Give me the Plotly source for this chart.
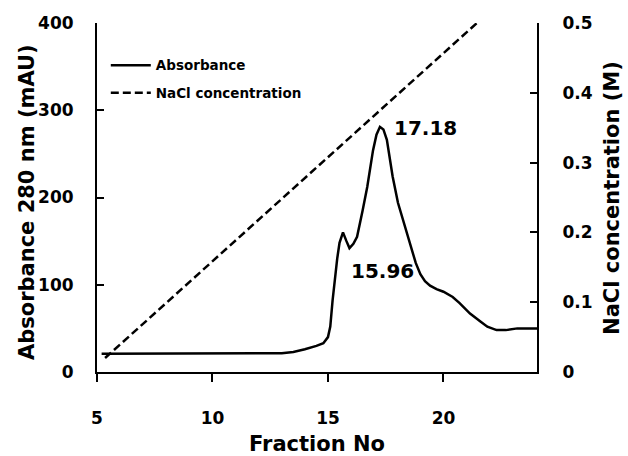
import plotly.graph_objects as go

# Absorbance trace (fraction number vs mAU)
abs_x = [5.2, 6, 8, 10, 12, 13, 13.5, 14.0, 14.5, 14.8, 15.0, 15.1, 15.2, 15.3, 15.4, 15.5,
         15.65, 15.8, 15.93, 16.1, 16.26, 16.5, 16.7, 16.95, 17.1, 17.25, 17.4, 17.55, 17.8,
         18.03, 18.3, 18.55, 18.8, 19.0, 19.2, 19.42, 19.7, 20.0, 20.4, 20.7, 21.15, 21.6,
         21.9, 22.3, 22.7, 23.2, 23.6, 24.05]
abs_y = [21, 21, 21, 21, 21, 21.5, 23, 26, 30, 33, 40, 52, 82, 108, 130, 148,
         160, 150, 142, 147, 155, 185, 212, 254, 272, 281, 278, 266, 224,
         194, 170, 148, 125, 112, 104, 99, 95, 92, 86, 79, 67, 58,
         52, 48, 48, 50, 50, 50]

# NaCl gradient (fraction number vs M)
nacl_x = [5.35, 21.45]
nacl_y = [0.02, 0.5]

# Peak labels
peak_labels = ["17.18", "15.96"]
peak_x = [17.77, 15.91]
peak_y = [280, 116]

x_ticks = [5, 10, 15, 20]
y_ticks = [0, 100, 200, 300, 400]
y2_ticks = [0, 0.1, 0.2, 0.3, 0.4, 0.5]
y2_ticktext = ["0", "0.1", "0.2", "0.3", "0.4", "0.5"]

FONT = "DejaVu Sans"
title_font = dict(family=FONT, size=21, color="black", weight="bold")

fig = go.Figure()
fig.add_trace(go.Scatter(x=abs_x, y=abs_y, mode="lines", name="Absorbance",
                         line=dict(color="black", width=2.5), legendgroup="a"))
fig.add_trace(go.Scatter(x=nacl_x, y=nacl_y, mode="lines", name="NaCl concentration",
                         yaxis="y2", line=dict(color="black", width=2.5, dash="8px,4px"),
                         legendgroup="b"))

for t, xx, yy in zip(peak_labels, peak_x, peak_y):
    fig.add_annotation(x=xx, y=yy, text=t, showarrow=False, xanchor="left", yanchor="middle",
                       font=dict(family=FONT, size=20, color="black", weight="bold"))

# Y axis titles as rotated annotations
fig.add_annotation(xref="paper", yref="paper", x=-0.159, y=0.487, text="Absorbance 280 nm (mAU)",
                   textangle=-90, showarrow=False, xanchor="center", yanchor="middle",
                   font=title_font)
fig.add_annotation(xref="paper", yref="paper", x=1.172, y=0.498, text="NaCl concentration (M)",
                   textangle=-90, showarrow=False, xanchor="center", yanchor="middle",
                   font=title_font)

axis_common = dict(showline=True, linecolor="black", linewidth=2, showgrid=False, zeroline=False,
                   tickcolor="black", tickwidth=2, automargin=False,
                   tickfont=dict(family=FONT, size=17, color="black", weight="bold"))

fig.update_layout(
    width=628, height=456,
    margin=dict(l=97, r=91, t=23, b=84, pad=0, autoexpand=False),
    plot_bgcolor="white", paper_bgcolor="white",
    showlegend=True,
    legend=dict(x=0.02, y=0.923, xanchor="left", yanchor="top", bgcolor="rgba(0,0,0,0)",
                font=dict(family=FONT, size=13.5, color="black", weight="bold"),
                tracegroupgap=7, itemwidth=40),
    xaxis=dict(range=[5, 24.05], tickvals=x_ticks, ticks="outside", ticklen=8,
               ticklabelstandoff=22,
               title=dict(text="Fraction No", standoff=11, font=title_font),
               **axis_common),
    yaxis=dict(range=[0, 400], tickvals=y_ticks, ticks="inside", ticklen=7,
               ticklabelstandoff=18, **axis_common),
    yaxis2=dict(range=[0, 0.5], tickvals=y2_ticks, ticktext=y2_ticktext, overlaying="y",
                side="right", ticks="inside", ticklen=7, ticklabelstandoff=20,
                **axis_common),
)

fig.write_html("out.html")
